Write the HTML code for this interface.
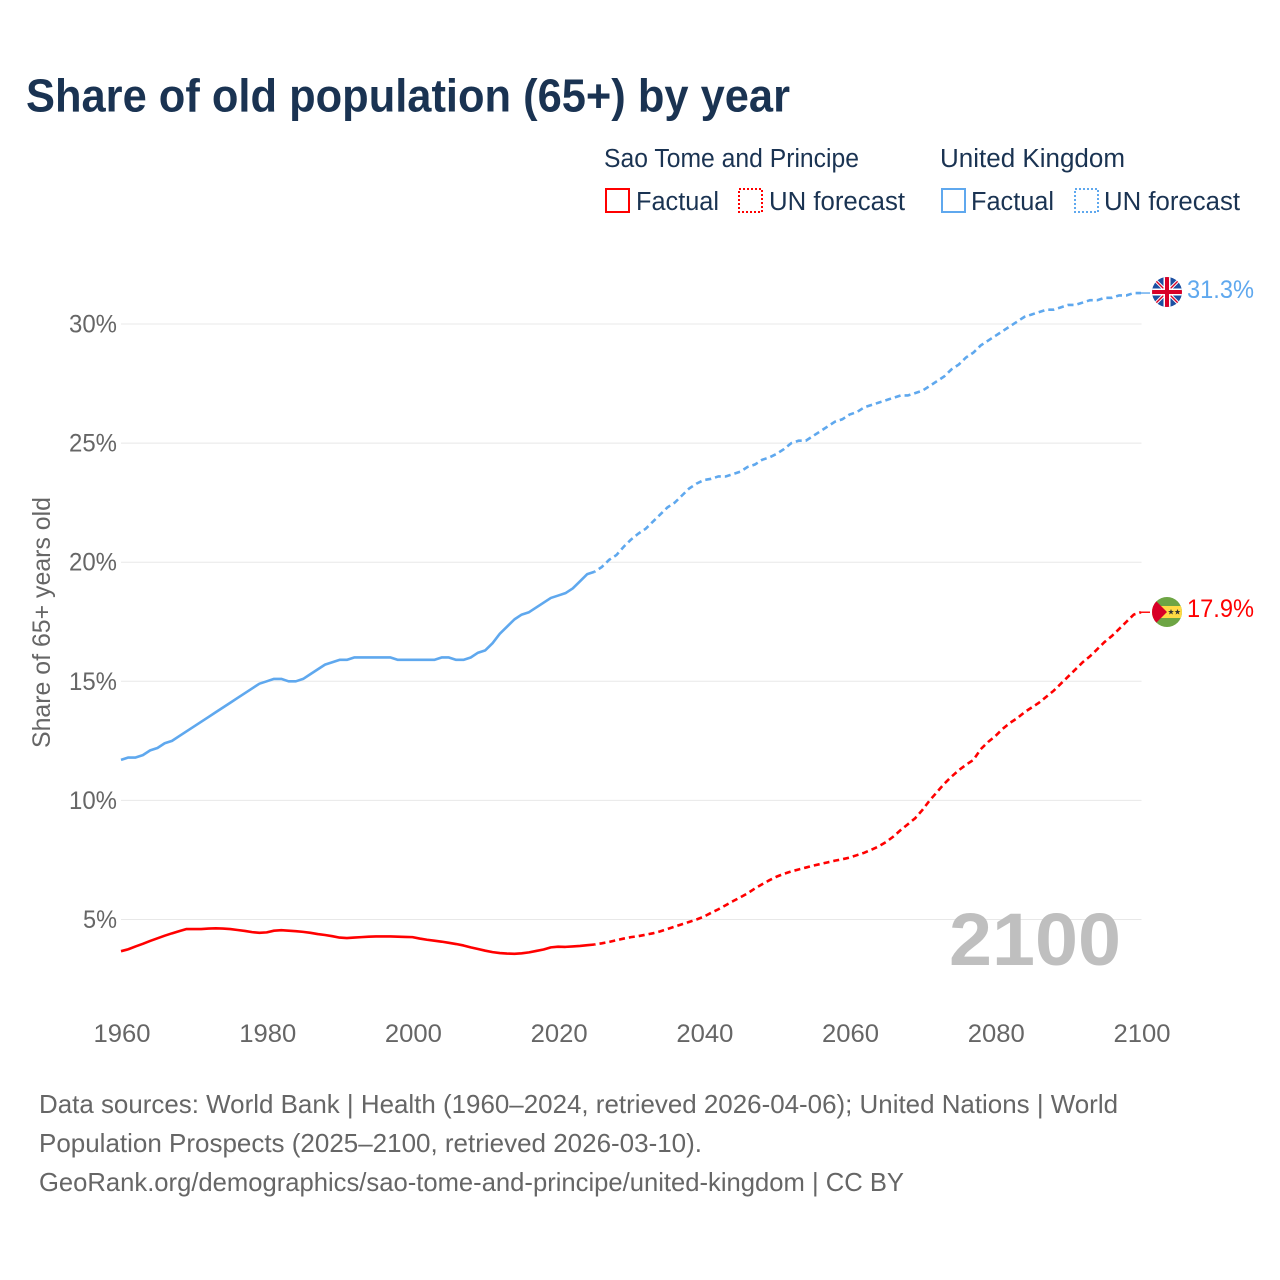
<!DOCTYPE html>
<html lang="en">
<head>
<meta charset="utf-8">
<title>Share of old population (65+) by year</title>
<style>
html,body{margin:0;padding:0;background:#fff;}
svg{display:block;font-family:"Liberation Sans",sans-serif;}
</style>
</head>
<body>
<svg id="chart" xmlns="http://www.w3.org/2000/svg" width="1280" height="1280" viewBox="0 0 1280 1280">
  <rect width="1280" height="1280" fill="#ffffff"/>
  <text x="26" y="111.5" font-size="46" font-weight="700" fill="#1a3352" textLength="764" lengthAdjust="spacingAndGlyphs">Share of old population (65+) by year</text>

  <g font-size="25.5" fill="#1a3352">
    <text x="604" y="167" textLength="255" lengthAdjust="spacingAndGlyphs">Sao Tome and Principe</text>
    <text x="940" y="167" textLength="185" lengthAdjust="spacingAndGlyphs">United Kingdom</text>
    <rect x="606" y="189" width="23" height="23" fill="none" stroke="#ff0000" stroke-width="2"/>
    <text x="636" y="210" textLength="83" lengthAdjust="spacingAndGlyphs">Factual</text>
    <rect x="739" y="189" width="23" height="23" fill="none" stroke="#ff0000" stroke-width="2" stroke-dasharray="2 2"/>
    <text x="769" y="210" textLength="136" lengthAdjust="spacingAndGlyphs">UN forecast</text>
    <rect x="942" y="189" width="23" height="23" fill="none" stroke="#5fa8ee" stroke-width="2"/>
    <text x="971" y="210" textLength="83" lengthAdjust="spacingAndGlyphs">Factual</text>
    <rect x="1075" y="189" width="23" height="23" fill="none" stroke="#5fa8ee" stroke-width="2" stroke-dasharray="2 2"/>
    <text x="1104" y="210" textLength="136" lengthAdjust="spacingAndGlyphs">UN forecast</text>
  </g>

  <g id="grid"></g>
  <g id="yticks" font-size="25" fill="#666666" text-anchor="end"></g>
  <g id="xticks" font-size="25" fill="#666666" text-anchor="middle"></g>

  <text transform="translate(50,748) rotate(-90)" font-size="25" fill="#666666" textLength="251" lengthAdjust="spacingAndGlyphs">Share of 65+ years old</text>

  <text x="949" y="965" font-size="74" font-weight="700" fill="#bfbfbf" textLength="172" lengthAdjust="spacingAndGlyphs">2100</text>

  <g id="series"></g>

  <defs>
    <clipPath id="flag-clip-uk"><circle cx="1167" cy="292" r="15"/></clipPath>
    <clipPath id="flag-clip-stp"><circle cx="1167" cy="612" r="15"/></clipPath>
  </defs>

  <g id="flag-uk" clip-path="url(#flag-clip-uk)">
    <rect x="1152" y="277" width="30" height="30" fill="#1c4fa1"/>
    <path d="M1152 277L1182 307M1182 277L1152 307" stroke="#ffffff" stroke-width="3.4"/>
    <path d="M1152 277L1182 307M1182 277L1152 307" stroke="#d80027" stroke-width="1.4"/>
    <rect x="1163.5" y="277" width="7" height="30" fill="#ffffff"/>
    <rect x="1152" y="288.5" width="30" height="7" fill="#ffffff"/>
    <rect x="1165" y="277" width="4" height="30" fill="#d80027"/>
    <rect x="1152" y="290" width="30" height="4" fill="#d80027"/>
  </g>

  <g id="flag-stp" clip-path="url(#flag-clip-stp)">
    <rect x="1152" y="597" width="30" height="30" fill="#6da544"/>
    <rect x="1152" y="606" width="30" height="12" fill="#ffda44"/>
    <path d="M1152 597L1167 612L1152 627Z" fill="#d80027"/>
    <path d="M1171 609l.8 2h2.2l-1.8 1.3.7 2.2-1.9-1.3-1.9 1.3.7-2.2-1.8-1.3h2.2z" fill="#333333"/>
    <path d="M1177.5 609l.8 2h2.2l-1.8 1.3.7 2.2-1.9-1.3-1.9 1.3.7-2.2-1.8-1.3h2.2z" fill="#333333"/>
  </g>

  <text id="label-uk" x="1187" y="298" font-size="25" fill="#5fa8ee" textLength="67" lengthAdjust="spacingAndGlyphs"></text>
  <text id="label-stp" x="1187" y="617" font-size="25" fill="#ff0000" textLength="67" lengthAdjust="spacingAndGlyphs"></text>

  <g font-size="26" fill="#666666">
    <text x="39" y="1113" textLength="1079" lengthAdjust="spacingAndGlyphs">Data sources: World Bank | Health (1960–2024, retrieved 2026-04-06); United Nations | World</text>
    <text x="39" y="1152" textLength="663" lengthAdjust="spacingAndGlyphs">Population Prospects (2025–2100, retrieved 2026-03-10).</text>
    <text x="39" y="1191" textLength="865" lengthAdjust="spacingAndGlyphs">GeoRank.org/demographics/sao-tome-and-principe/united-kingdom | CC BY</text>
  </g>
</svg>

<script>
const firstYear = 1960;
const lastFactualYear = 2025;
const yTickValues = [5, 10, 15, 20, 25, 30];
const xTickYears = [1960, 1980, 2000, 2020, 2040, 2060, 2080, 2100];

const ukValues = [
  11.7,11.8,11.8,11.9,12.1,12.2,12.4,12.5,12.7,12.9,
  13.1,13.3,13.5,13.7,13.9,14.1,14.3,14.5,14.7,14.9,
  15.0,15.1,15.1,15.0,15.0,15.1,15.3,15.5,15.7,15.8,
  15.9,15.9,16.0,16.0,16.0,16.0,16.0,16.0,15.9,15.9,
  15.9,15.9,15.9,15.9,16.0,16.0,15.9,15.9,16.0,16.2,
  16.3,16.6,17.0,17.3,17.6,17.8,17.9,18.1,18.3,18.5,
  18.6,18.7,18.9,19.2,19.5,19.6,
  19.8,20.1,20.3,20.65,20.95,21.2,21.4,21.7,22.0,22.3,
  22.5,22.8,23.1,23.3,23.45,23.5,23.6,23.6,23.7,23.8,
  24.0,24.1,24.3,24.4,24.55,24.75,25.0,25.1,25.1,25.3,
  25.5,25.7,25.9,26.0,26.2,26.3,26.5,26.6,26.7,26.8,
  26.9,27.0,27.0,27.1,27.2,27.4,27.6,27.8,28.1,28.3,
  28.6,28.8,29.1,29.3,29.5,29.7,29.9,30.1,30.3,30.4,
  30.5,30.6,30.6,30.7,30.8,30.8,30.9,31.0,31.0,31.1,
  31.1,31.2,31.2,31.3,31.3
];

const stpValues = [
  3.67,3.75,3.87,3.98,4.1,4.21,4.32,4.42,4.51,4.6,
  4.6,4.6,4.62,4.63,4.62,4.6,4.56,4.52,4.47,4.44,
  4.46,4.53,4.55,4.53,4.51,4.48,4.44,4.39,4.35,4.3,
  4.24,4.22,4.24,4.26,4.28,4.29,4.29,4.29,4.28,4.27,
  4.26,4.2,4.15,4.11,4.07,4.02,3.97,3.91,3.83,3.76,
  3.69,3.63,3.59,3.57,3.56,3.58,3.62,3.68,3.74,3.83,
  3.86,3.85,3.87,3.89,3.92,3.95,
  4.0,4.06,4.13,4.2,4.26,4.3,4.36,4.42,4.5,4.6,
  4.7,4.8,4.9,5.0,5.12,5.28,5.43,5.6,5.77,5.93,
  6.1,6.3,6.48,6.65,6.8,6.92,7.02,7.1,7.18,7.26,
  7.33,7.4,7.47,7.53,7.6,7.7,7.8,7.93,8.07,8.25,
  8.48,8.75,9.0,9.25,9.6,10.0,10.35,10.7,11.0,11.27,
  11.5,11.7,12.15,12.45,12.7,13.0,13.25,13.45,13.7,13.9,
  14.1,14.35,14.6,14.9,15.2,15.5,15.8,16.05,16.35,16.65,
  16.9,17.2,17.5,17.8,17.9
];

const SVG_NS = 'http://www.w3.org/2000/svg';
function xScale(year) { return 121 + (year - 1960) * (1020 / 140); }
function yScale(v) { return 1038.6 - v * 23.82; }

const gridGroup = document.getElementById('grid');
const yTickGroup = document.getElementById('yticks');
const xTickGroup = document.getElementById('xticks');
const seriesGroup = document.getElementById('series');

yTickValues.forEach(function (v) {
  const line = document.createElementNS(SVG_NS, 'line');
  
  
  line.setAttribute('x1', 121);
  line.setAttribute('x2', 1141.5);
  line.setAttribute('y1', yScale(v));
  line.setAttribute('y2', yScale(v));
  line.setAttribute('stroke', '#e8e8e8');
  line.setAttribute('stroke-width', 1);
  gridGroup.appendChild(line);

  const label = document.createElementNS(SVG_NS, 'text');
  
  
  label.setAttribute('x', 117);
  label.setAttribute('y', yScale(v) + 8.5);
  label.setAttribute('textLength', v < 10 ? 34 : 48);
  label.setAttribute('lengthAdjust', 'spacingAndGlyphs');
  label.textContent = v + '%';
  yTickGroup.appendChild(label);
});

xTickYears.forEach(function (year) {
  const label = document.createElementNS(SVG_NS, 'text');
  
  
  label.setAttribute('x', xScale(year) + 1);
  label.setAttribute('y', 1042);
  label.setAttribute('textLength', 57);
  label.setAttribute('lengthAdjust', 'spacingAndGlyphs');
  label.textContent = String(year);
  xTickGroup.appendChild(label);
});

function pathFor(values, fromIdx, toIdx) {
  let d = '';
  for (let i = fromIdx; i <= toIdx; i++) {
    d += (i === fromIdx ? 'M' : 'L') + xScale(firstYear + i).toFixed(2) + ' ' + yScale(values[i]).toFixed(2);
  }
  return d;
}

function drawSeries(values, color, baseName) {
  const split = lastFactualYear - firstYear;
  const lastIdx = values.length - 1;

  const solid = document.createElementNS(SVG_NS, 'path');
  
  
  solid.setAttribute('d', pathFor(values, 0, split));
  solid.setAttribute('fill', 'none');
  solid.setAttribute('stroke', color);
  solid.setAttribute('stroke-width', 2.6);
  solid.setAttribute('stroke-linejoin', 'round');
  seriesGroup.appendChild(solid);

  const dashed = document.createElementNS(SVG_NS, 'path');
  
  
  dashed.setAttribute('d', pathFor(values, split, lastIdx));
  dashed.setAttribute('fill', 'none');
  dashed.setAttribute('stroke', color);
  dashed.setAttribute('stroke-width', 2.6);
  dashed.setAttribute('stroke-dasharray', '6 4');
  dashed.setAttribute('stroke-dashoffset', '-5');
  seriesGroup.appendChild(dashed);

  const connector = document.createElementNS(SVG_NS, 'line');
  
  
  connector.setAttribute('x1', xScale(firstYear + lastIdx));
  connector.setAttribute('x2', xScale(firstYear + lastIdx) + 9);
  connector.setAttribute('y1', yScale(values[lastIdx]));
  connector.setAttribute('y2', yScale(values[lastIdx]));
  connector.setAttribute('stroke', color);
  connector.setAttribute('stroke-width', 1.4);
  seriesGroup.appendChild(connector);
}

drawSeries(ukValues, '#5fa8ee', 'united-kingdom');
drawSeries(stpValues, '#ff0000', 'sao-tome');

document.getElementById('label-uk').textContent = ukValues[ukValues.length - 1].toFixed(1) + '%';
document.getElementById('label-stp').textContent = stpValues[stpValues.length - 1].toFixed(1) + '%';
</script>
</body>
</html>
